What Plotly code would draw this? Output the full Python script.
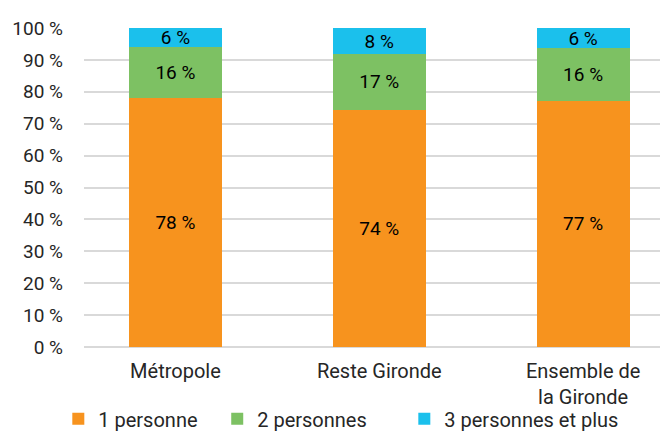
import plotly.graph_objects as go

categories = ["Métropole", "Reste Gironde", "Ensemble de<br>la Gironde"]
series_names = ["1 personne", "2 personnes", "3 personnes et plus"]
one_person = [78.1, 74.4, 77.2]
two_persons = [15.9, 17.4, 16.4]
three_plus = [6.0, 8.2, 6.4]
y_ticks = [0, 10, 20, 30, 40, 50, 60, 70, 80, 90, 100]

colors = ["#F7931E", "#7DC163", "#1BC0EC"]
FONT = "Roboto"

x_pos = list(range(len(categories)))
legend_ids = ["legend", "legend2", "legend3"]
legend_x = [-0.0446, 0.2313, 0.5561]

fig = go.Figure()
for name, vals, col, lg in zip(series_names, [one_person, two_persons, three_plus], colors, legend_ids):
    fig.add_trace(go.Bar(
        x=x_pos, y=vals, name=name, legend=lg,
        marker=dict(color=col, line=dict(width=0)),
        width=0.456,
        texttemplate="%{y:.0f} %",
        textposition="inside",
        insidetextanchor="middle",
        textangle=0,
        constraintext="none",
        textfont=dict(family=FONT, size=19, color="#000000"),
        hoverinfo="skip",
    ))

legend_style = dict(
    orientation="h", xanchor="left", y=-0.225, yanchor="middle",
    font=dict(family=FONT, size=20, color="#262626"),
    bgcolor="rgba(0,0,0,0)",
)

fig.update_layout(
    barmode="stack",
    width=660, height=432,
    margin=dict(l=84, r=0, t=28, b=85, autoexpand=False),
    paper_bgcolor="white",
    plot_bgcolor="white",
    font=dict(family=FONT, size=19, color="#262626"),
    xaxis=dict(
        tickvals=x_pos, ticktext=categories,
        range=[-0.4485, 2.377],
        showgrid=False, zeroline=False, showline=False,
        ticks="", ticklabelstandoff=10,
        tickfont=dict(size=20),
    ),
    yaxis=dict(
        range=[0, 100], tickvals=y_ticks,
        ticktext=[f"{v} %" for v in y_ticks],
        showgrid=True, gridcolor="#D9D9D9", gridwidth=1.5,
        zeroline=True, zerolinecolor="#D9D9D9", zerolinewidth=1.5,
        ticks="", ticklabelstandoff=20,
    ),
    legend=dict(x=legend_x[0], **legend_style),
    legend2=dict(x=legend_x[1], **legend_style),
    legend3=dict(x=legend_x[2], **legend_style),
    showlegend=True,
)

# remove the default 8px page margin so the figure sits at the window corner
fig.write_html("out.html", config={"displayModeBar": False},
               post_script="document.body.style.margin='0';")
